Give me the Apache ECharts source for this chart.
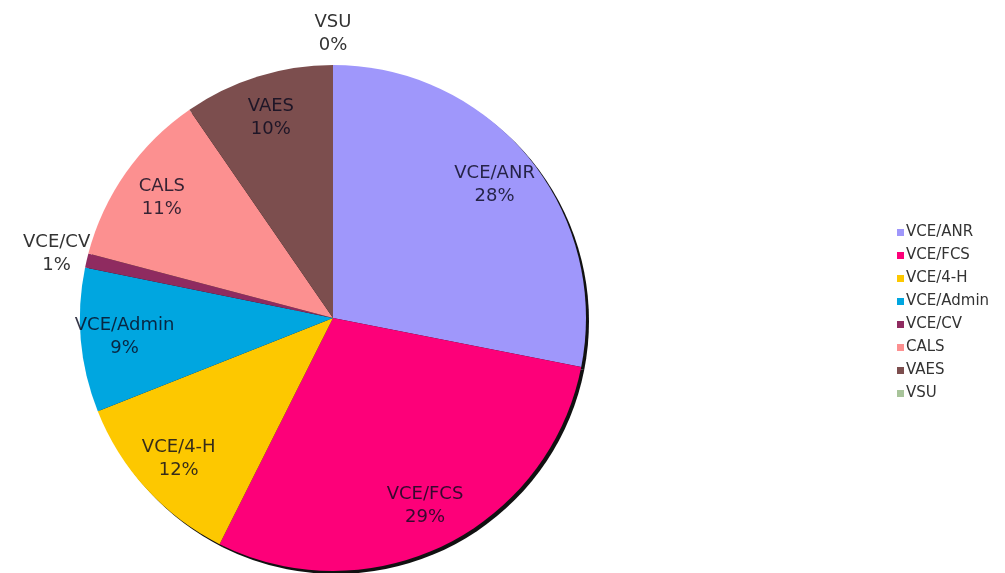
<!DOCTYPE html>
<html>
<head>
<meta charset="utf-8">
<script src="https://cdn.jsdelivr.net/npm/echarts@6/dist/echarts.min.js"></script>
<style>
html,body{margin:0;padding:0;background:#fff;}
#chart{width:1005px;height:573px;}
</style>
</head>
<body>
<div id="chart"></div>
<script>
var categories = ['VCE/ANR', 'VCE/FCS', 'VCE/4-H', 'VCE/Admin', 'VCE/CV', 'CALS', 'VAES', 'VSU'];
var values = [28.1, 29.3, 11.6, 9.2, 0.9, 11.3, 9.6, 0];
var colors = ['#9f97fb', '#fd0079', '#fdc800', '#00a6e0', '#8f2b60', '#fc9090', '#7c4e4e', '#a8c49a'];

var FONT = '"DejaVu Sans", Verdana, sans-serif';
var CX = 333, CY = 318, R = 253;
var SMALL = 2; // slices below this share are labelled outside

var total = values.reduce(function (a, b) { return a + b; }, 0);

var mainData = categories.map(function (c, i) {
  return { name: c, value: values[i], itemStyle: { color: colors[i] } };
});
var shadowData = categories.map(function (c, i) {
  return { name: c, value: values[i] };
});
var innerData = categories.map(function (c, i) {
  return { name: c, value: values[i], label: { show: values[i] / total * 100 >= SMALL } };
});
var outerData = categories.map(function (c, i) {
  return { name: c, value: values[i], label: { show: values[i] / total * 100 < SMALL } };
});

var chart = echarts.init(document.getElementById('chart'), null, { renderer: 'canvas' });
chart.setOption({
  animation: false,
  backgroundColor: '#ffffff',
  legend: {
    orient: 'vertical',
    left: 892,
    top: 220,
    itemWidth: 7,
    itemHeight: 7,
    itemGap: 8,
    icon: 'rect',
    textStyle: { fontFamily: FONT, fontSize: 15, color: '#333333', padding: [0, 0, 0, -3] },
    data: categories
  },
  series: [
    {
      type: 'pie',
      name: 'main',
      center: [CX, CY],
      radius: R,
      startAngle: 90,
      clockwise: true,
      z: 3,
      silent: true,
      label: { show: false },
      labelLine: { show: false },
      emphasis: { disabled: true },
      itemStyle: { borderWidth: 0 },
      data: mainData
    },
    {
      type: 'pie',
      name: 'shadow',
      center: [CX + 3, CY + 3],
      radius: R,
      startAngle: 90,
      clockwise: true,
      z: 1,
      silent: true,
      label: { show: false },
      labelLine: { show: false },
      emphasis: { disabled: true },
      itemStyle: { color: '#111111', borderWidth: 0 },
      data: shadowData
    },
    {
      type: 'pie',
      name: 'innerLabels',
      center: [CX, CY],
      radius: [R * 0.63, R],
      startAngle: 90,
      clockwise: true,
      z: 5,
      silent: true,
      percentPrecision: 0,
      avoidLabelOverlap: false,
      itemStyle: { color: 'rgba(0,0,0,0)', borderWidth: 0 },
      labelLine: { show: false },
      emphasis: { disabled: true },
      label: {
        position: 'inside',
        formatter: '{b}\n{d}%',
        fontFamily: FONT,
        fontSize: 18,
        lineHeight: 23,
        color: 'rgba(10,10,30,0.82)',
        align: 'center'
      },
      data: innerData
    },
    {
      type: 'pie',
      name: 'outerLabels',
      center: [CX, CY],
      radius: [R, R * 1.22],
      startAngle: 90,
      clockwise: true,
      z: 5,
      silent: true,
      percentPrecision: 0,
      avoidLabelOverlap: false,
      itemStyle: { color: 'rgba(0,0,0,0)', borderWidth: 0 },
      labelLine: { show: false },
      emphasis: { disabled: true },
      label: {
        position: 'inside',
        formatter: '{b}\n{d}%',
        fontFamily: FONT,
        fontSize: 18,
        lineHeight: 23,
        color: '#333333',
        align: 'center'
      },
      data: outerData
    }
  ]
});
</script>
</body>
</html>
